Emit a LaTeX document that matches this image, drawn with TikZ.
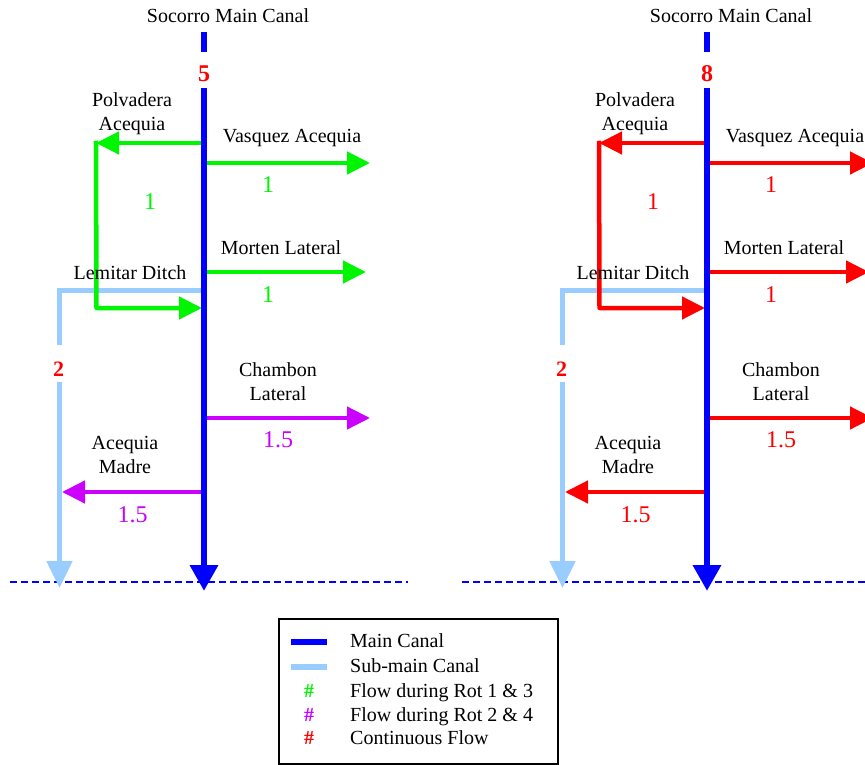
\documentclass[tikz,border=0pt]{standalone}
\usepackage{fontspec}
\setmainfont{Liberation Serif}
\newfontfamily\tnr{Liberation Serif}
\usetikzlibrary{arrows.meta}
\definecolor{cgreen}{RGB}{0,245,0}
\definecolor{cmag}{RGB}{204,0,255}
\definecolor{cred}{RGB}{255,0,0}
\definecolor{cblue}{RGB}{0,0,255}
\definecolor{clight}{RGB}{153,204,255}
\tikzset{
  lbl/.style={font=\tnr\fontsize{20}{24}\selectfont, align=center, inner sep=1pt},
  lblb/.style={lbl, anchor=base},
  num/.style={font=\tnr\fontsize{24}{26}\selectfont, inner sep=1pt, anchor=base},
  bignum/.style={font=\tnr\fontsize{24}{26}\selectfont\bfseries, inner sep=1pt, anchor=base, text=cred},
  mainline/.style={draw=cblue, line width=6.5pt},
  mainarrow/.style={mainline, -{Triangle[length=26pt,width=27pt]}},
  subline/.style={draw=clight, line width=5pt, line join=miter},
  subarrow/.style={subline, -{Triangle[length=27pt,width=25pt]}},
  branch/.style={line width=4.5pt, line join=round, -{Triangle[length=23pt,width=22pt]}},
  dashline/.style={draw=cblue, line width=1.4pt, dash pattern=on 7pt off 4pt},
  legtext/.style={font=\tnr\fontsize{20}{24}\selectfont, inner sep=0pt, anchor=base west},
  leghash/.style={font=\tnr\bfseries\fontsize{20}{22}\selectfont, inner sep=1pt, anchor=base},
}
% #1 prefix, #2 xshift, #3 top number, #4 colour rot 1&3, #5 colour rot 2&4
\newcommand\canalpanel[5]{%
\begin{scope}[xshift=#2]
  \coordinate (#1top) at (204,32);
  \coordinate (#1gt) at (204,52);
  \coordinate (#1gb) at (204,88);
  \coordinate (#1bot) at (204,591);
  \coordinate (#1lj) at (204,290);
  \coordinate (#1lc) at (59.5,290);
  \coordinate (#1lg1) at (59.5,345);
  \coordinate (#1lg2) at (59.5,382);
  \coordinate (#1lb) at (59.5,588);
  \coordinate (#1pj) at (204,143);
  \coordinate (#1pc) at (96,143);
  \coordinate (#1pk) at (96.5,308);
  \coordinate (#1pe) at (202,308);
  \coordinate (#1vj) at (204,163);
  \coordinate (#1vt) at (370,163);
  \coordinate (#1mj) at (204,272);
  \coordinate (#1mt) at (366,272);
  \coordinate (#1cj) at (204,418);
  \coordinate (#1ct) at (370,418);
  \coordinate (#1aj) at (204,492);
  \coordinate (#1at) at (62,492);
  \draw[subline] (#1lj) -- (#1lc) -- (#1lg1);
  \draw[subarrow] (#1lg2) -- (#1lb);
  \draw[branch, #4] (#1pj) -- (#1pc);
  \draw[branch, #4, line cap=rect] (#1pc) -- (#1pk) -- (#1pe);
  \draw[branch, #4] (#1vj) -- (#1vt);
  \draw[branch, #4] (#1mj) -- (#1mt);
  \draw[branch, #5] (#1cj) -- (#1ct);
  \draw[branch, #5] (#1aj) -- (#1at);
  \draw[mainline] (#1top) -- (#1gt);
  \draw[mainarrow] (#1gb) -- (#1bot);
  \node[lblb] (#1soc) at (228,23) {Socorro Main Canal};
  \node[bignum] (#1topnum) at (204,82) {#3};
  \node[lbl] (#1polv) at (132,114) {Polvadera\\Acequia};
  \node[lblb] (#1vasq) at (292,143) {Vasquez Acequia};
  \node[num, text=#4] (#1vnum) at (268,193) {1};
  \node[num, text=#4] (#1pnum) at (150,209) {1};
  \node[lblb] (#1mort) at (281,254) {Morten Lateral};
  \node[num, text=#4] (#1mnum) at (268,302) {1};
  \node[lblb] (#1lem) at (130,279) {Lemitar Ditch};
  \node[bignum, font=\tnr\bfseries\fontsize{22}{24}\selectfont] (#1lnum) at (58.5,376) {2};
  \node[lbl] (#1cham) at (278,382) {Chambon\\Lateral};
  \node[num, text=#5] (#1cnum) at (278,447) {1.5};
  \node[lbl] (#1acm) at (125,455) {Acequia\\Madre};
  \node[num, text=#5] (#1anum) at (132.5,522) {1.5};
\end{scope}}

\begin{document}
\begin{tikzpicture}[x=1pt, y=-1pt]
  \path[use as bounding box, clip] (0,0) rectangle (865,765);
  \fill[white] (0,0) rectangle (865,765);
  \coordinate (d1a) at (10,582);
  \coordinate (d1b) at (408,582);
  \coordinate (d2a) at (462,582);
  \coordinate (d2b) at (866,582);
  \draw[dashline] (d1a) -- (d1b);
  \draw[dashline] (d2a) -- (d2b);
  \canalpanel{L}{0}{5}{cgreen}{cmag}
  \canalpanel{R}{503}{8}{cred}{cred}
  \node[draw=black, line width=2pt, minimum width=279pt, minimum height=145pt, inner sep=0pt, anchor=north west] (legend) at (278,618) {};
  \coordinate (lm1) at (291,642);
  \coordinate (lm2) at (327,642);
  \coordinate (ls1) at (291,667);
  \coordinate (ls2) at (327,667);
  \draw[mainline] (lm1) -- (lm2);
  \draw[subline, line width=6pt] (ls1) -- (ls2);
  \node[legtext] (t1) at (350,647) {Main Canal};
  \node[legtext] (t2) at (350,672) {Sub-main Canal};
  \node[leghash, text=cgreen] (h3) at (309,697) {\#};
  \node[legtext] (t3) at (350,697) {Flow during Rot 1 \& 3};
  \node[leghash, text=cmag] (h4) at (309,721) {\#};
  \node[legtext] (t4) at (350,721) {Flow during Rot 2 \& 4};
  \node[leghash, text=cred] (h5) at (309,744) {\#};
  \node[legtext] (t5) at (350,744) {Continuous Flow};
\end{tikzpicture}
\end{document}
